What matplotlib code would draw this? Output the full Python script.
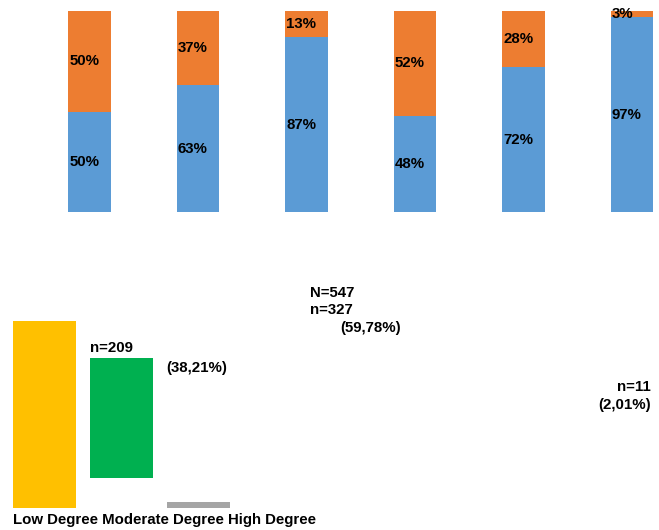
import numpy as np
from matplotlib import pyplot as plt

plt.rcParams['font.family'] = ['Liberation Sans', 'DejaVu Sans']
plt.rcParams['font.weight'] = 'bold'
plt.rcParams['font.size'] = 10.8

# stacked shares per group (percent)
blue_share = [50, 63, 87, 48, 72, 97]
orange_share = [50, 37, 13, 52, 28, 3]

# degree distribution
degrees = ['Low Degree', 'Moderate Degree', 'High Degree']
degree_n = [327, 209, 11]
degree_pct = [59.78, 38.21, 2.01]
total_n = 547

BLUE = '#5B9BD5'
ORANGE = '#ED7D31'
DEGREE_COLORS = ['#FFC000', '#00B050', '#A5A5A5']

W, H = 659, 530


def px(x, y):
    return x / W, 1 - y / H


def pct(v):
    return '{:.0f}%'.format(v)


def comma(v):
    return '({:.2f}%)'.format(v).replace('.', ',')


fig = plt.figure(figsize=(W / 100, H / 100), dpi=100)

# --- stacked percentage bars ---
top = fig.add_axes([0, (H - 212) / H, 1, 201 / H])
x = np.arange(len(blue_share))
bw = 0.396
top.bar(x, blue_share, bw, color=BLUE)
top.bar(x, orange_share, bw, bottom=blue_share, color=ORANGE)
for i, (b, o) in enumerate(zip(blue_share, orange_share)):
    left = i - bw / 2 + 0.01
    top.text(left, b / 2, pct(b), ha='left', va='center')
    top.text(left, b + o / 2, pct(o), ha='left', va='center')
top.set_xlim(-0.825, 5.249)
top.set_ylim(0, 100)
top.axis('off')

# --- degree bars ---
bot = fig.add_axes([0, 22 / H, 1, 187 / H])
xd = np.arange(len(degrees))
base = [0, 9.6, 0]
bot.bar(xd, degree_pct, 0.818, bottom=base, color=DEGREE_COLORS)
bot.set_xlim(-0.578, 7.98)
bot.set_ylim(0, degree_pct[0])
bot.axis('off')

fig.text(*px(13, 520), ' '.join(degrees), ha='left', va='center')

fig.text(*px(310, 293), 'N={}'.format(total_n), ha='left', va='center')
count_pos = [(310, 310, 'left'), (90, 348, 'left'), (651, 387, 'right')]
pct_pos = [(340, 328, 'left'), (166, 368, 'left'), (651, 405, 'right')]
for n, p, (cx, cy, ca), (tx, ty, ta) in zip(degree_n, degree_pct, count_pos, pct_pos):
    fig.text(*px(cx, cy), 'n={}'.format(n), ha=ca, va='center')
    fig.text(*px(tx, ty), comma(p), ha=ta, va='center')

fig.savefig('out.png', dpi=100)
